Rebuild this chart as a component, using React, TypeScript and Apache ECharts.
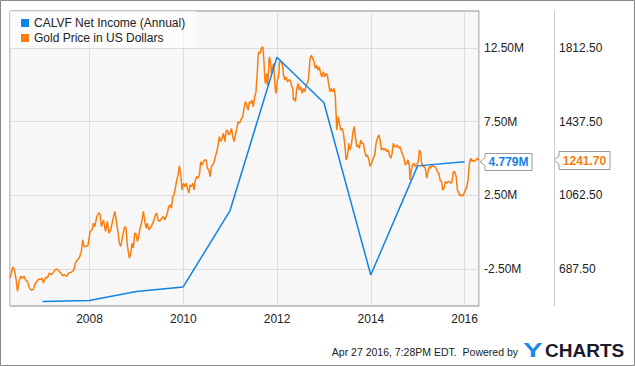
import React, { useEffect, useRef } from "react";
import * as echarts from "echarts";

const FONT = '"Liberation Sans", Arial, sans-serif';
const BLUE = "#1083e6";
const ORANGE = "#fb7d0c";

const seriesNames = ["CALVF Net Income (Annual)", "Gold Price in US Dollars"];

const xMin = "2006-04-22";
const xMax = "2016-04-22";

// Net income, millions USD (fiscal year ends)
const niDates = [
  "2006-12-31", "2007-12-31", "2008-12-31", "2009-12-31", "2010-12-31",
  "2011-12-31", "2012-12-31", "2013-12-31", "2014-12-31", "2015-12-31",
];
const niValues = [-4.69, -4.62, -4.01, -3.71, 1.47, 11.87, 8.78, -2.9, 4.5, 4.779];

// Left axis label ticks (M) and right axis label ticks (USD)
const niTickLabels = [-2.5, 2.5, 7.5, 12.5];
const goldTickLabels = [687.5, 1062.5, 1437.5, 1812.5];

const goldPrice: [string, number][] = [
  ["2006-04-22", 642], ["2006-05-14", 698], ["2006-05-24", 688], ["2006-06-09", 634], ["2006-06-19", 575],
  ["2006-07-05", 634], ["2006-07-15", 651], ["2006-07-26", 642], ["2006-08-10", 651], ["2006-08-20", 634],
  ["2006-09-05", 625], ["2006-09-20", 591], ["2006-10-06", 580], ["2006-10-22", 586], ["2006-11-01", 608],
  ["2006-11-17", 625], ["2006-12-02", 637], ["2006-12-18", 634], ["2006-12-28", 642],
  ["2007-01-07", 617], ["2007-01-18", 637], ["2007-01-28", 647], ["2007-02-07", 642], ["2007-02-22", 668],
  ["2007-03-10", 659], ["2007-03-26", 671], ["2007-04-10", 685], ["2007-04-21", 688], ["2007-05-07", 679],
  ["2007-05-22", 668], ["2007-06-07", 654], ["2007-06-22", 659], ["2007-07-08", 651], ["2007-07-23", 668],
  ["2007-08-08", 671], ["2007-08-23", 676], ["2007-09-02", 685], ["2007-09-13", 718], ["2007-09-28", 735],
  ["2007-10-14", 744], ["2007-10-30", 778], ["2007-11-09", 837], ["2007-11-19", 803], ["2007-12-05", 803],
  ["2007-12-21", 811],
  ["2008-01-06", 879], ["2008-01-22", 887], ["2008-02-01", 921], ["2008-02-12", 904], ["2008-02-27", 955],
  ["2008-03-14", 975], ["2008-03-24", 964], ["2008-04-03", 904], ["2008-04-19", 938], ["2008-05-05", 879],
  ["2008-05-20", 930], ["2008-05-31", 871], ["2008-06-15", 887], ["2008-07-01", 938], ["2008-07-16", 981],
  ["2008-07-27", 938], ["2008-08-11", 871], ["2008-08-21", 820], ["2008-09-01", 803], ["2008-09-17", 862],
  ["2008-10-02", 904], ["2008-10-12", 896], ["2008-10-23", 803], ["2008-11-07", 744], ["2008-11-18", 769],
  ["2008-11-28", 820], ["2008-12-08", 795], ["2008-12-19", 871], ["2008-12-29", 867],
  ["2009-01-08", 828], ["2009-01-19", 854], ["2009-01-29", 896], ["2009-02-09", 921], ["2009-02-24", 981],
  ["2009-03-07", 930], ["2009-03-17", 896], ["2009-03-27", 921], ["2009-04-07", 888], ["2009-04-27", 904],
  ["2009-05-18", 938], ["2009-05-29", 964], ["2009-06-08", 972], ["2009-06-18", 938], ["2009-06-28", 930],
  ["2009-07-19", 947], ["2009-07-29", 955], ["2009-08-09", 938], ["2009-08-19", 955], ["2009-08-30", 972],
  ["2009-09-09", 1006], ["2009-09-19", 1014], ["2009-09-30", 997], ["2009-10-11", 1057], ["2009-10-21", 1065],
  ["2009-10-31", 1099], ["2009-11-11", 1141], ["2009-11-21", 1167], ["2009-12-01", 1212], ["2009-12-12", 1167],
  ["2009-12-22", 1090],
  ["2010-01-02", 1124], ["2010-01-13", 1107], ["2010-01-23", 1124], ["2010-02-02", 1099], ["2010-02-13", 1074],
  ["2010-02-23", 1116], ["2010-03-05", 1107], ["2010-03-16", 1124], ["2010-03-26", 1090], ["2010-04-05", 1141],
  ["2010-04-16", 1158], ["2010-04-26", 1150], ["2010-05-06", 1167], ["2010-05-17", 1234], ["2010-05-27", 1217],
  ["2010-06-07", 1234], ["2010-06-17", 1243], ["2010-06-28", 1243], ["2010-07-08", 1200], ["2010-07-19", 1192],
  ["2010-07-29", 1158], ["2010-08-08", 1209], ["2010-08-19", 1217], ["2010-08-29", 1234], ["2010-09-08", 1260],
  ["2010-09-19", 1285], ["2010-09-29", 1319], ["2010-10-09", 1361], ["2010-10-20", 1336], ["2010-10-30", 1353],
  ["2010-11-09", 1378], ["2010-11-20", 1336], ["2010-11-30", 1386], ["2010-12-10", 1395], ["2010-12-21", 1370],
  ["2010-12-31", 1378],
  ["2011-01-11", 1403], ["2011-01-21", 1361], ["2011-02-01", 1336], ["2011-02-11", 1370], ["2011-02-22", 1403],
  ["2011-03-04", 1437], ["2011-03-14", 1429], ["2011-03-25", 1446], ["2011-04-09", 1463], ["2011-04-19", 1505],
  ["2011-04-29", 1539], ["2011-05-10", 1522], ["2011-05-20", 1496], ["2011-05-31", 1539], ["2011-06-10", 1530],
  ["2011-06-20", 1547], ["2011-06-30", 1513], ["2011-07-11", 1564], ["2011-07-21", 1589], ["2011-07-27", 1649],
  ["2011-08-01", 1699], ["2011-08-06", 1767], ["2011-08-11", 1792], ["2011-08-22", 1784], ["2011-09-01", 1809],
  ["2011-09-11", 1818], ["2011-09-16", 1792], ["2011-09-22", 1733], ["2011-09-27", 1665], ["2011-10-02", 1632],
  ["2011-10-07", 1657], ["2011-10-13", 1682], ["2011-10-17", 1623], ["2011-10-23", 1649], ["2011-10-28", 1716],
  ["2011-11-02", 1767], ["2011-11-08", 1750], ["2011-11-13", 1725], ["2011-11-18", 1682], ["2011-11-23", 1716],
  ["2011-11-28", 1708], ["2011-12-03", 1733], ["2011-12-09", 1699], ["2011-12-14", 1640], ["2011-12-19", 1598],
  ["2011-12-24", 1581], ["2011-12-30", 1615],
  ["2012-01-04", 1649], ["2012-01-15", 1674], ["2012-01-19", 1733], ["2012-01-25", 1750], ["2012-02-04", 1742],
  ["2012-02-15", 1716], ["2012-02-20", 1674], ["2012-03-02", 1649], ["2012-03-12", 1665], ["2012-03-22", 1640],
  ["2012-04-02", 1649], ["2012-04-12", 1649], ["2012-04-22", 1623], ["2012-05-03", 1606], ["2012-05-08", 1547],
  ["2012-05-19", 1556], ["2012-05-23", 1539], ["2012-06-03", 1606], ["2012-06-13", 1632], ["2012-06-23", 1598],
  ["2012-07-04", 1615], ["2012-07-14", 1581], ["2012-07-24", 1606], ["2012-08-04", 1589], ["2012-08-14", 1623],
  ["2012-08-25", 1632], ["2012-09-04", 1665], ["2012-09-09", 1716], ["2012-09-14", 1759], ["2012-09-24", 1775],
  ["2012-10-05", 1759], ["2012-10-15", 1742], ["2012-10-25", 1708], ["2012-11-05", 1725], ["2012-11-15", 1699],
  ["2012-11-25", 1716], ["2012-12-06", 1682], ["2012-12-16", 1665], ["2012-12-26", 1691],
  ["2013-01-07", 1665], ["2013-01-17", 1682], ["2013-01-27", 1674], ["2013-02-07", 1623], ["2013-02-17", 1589],
  ["2013-02-27", 1606], ["2013-03-10", 1589], ["2013-03-20", 1606], ["2013-03-30", 1564], ["2013-04-10", 1395],
  ["2013-04-21", 1463], ["2013-05-01", 1429], ["2013-05-12", 1395], ["2013-05-22", 1403], ["2013-06-01", 1378],
  ["2013-06-12", 1319], ["2013-06-22", 1243], ["2013-07-02", 1260], ["2013-07-13", 1327], ["2013-07-23", 1293],
  ["2013-08-02", 1319], ["2013-08-13", 1378], ["2013-08-23", 1412], ["2013-09-02", 1361], ["2013-09-13", 1310],
  ["2013-09-23", 1319], ["2013-10-03", 1302], ["2013-10-14", 1344], ["2013-10-24", 1327], ["2013-11-04", 1327],
  ["2013-11-14", 1285], ["2013-11-25", 1260], ["2013-12-05", 1268], ["2013-12-16", 1243], ["2013-12-26", 1209],
  ["2014-01-10", 1234], ["2014-01-20", 1251], ["2014-01-31", 1268], ["2014-02-10", 1327], ["2014-02-21", 1353],
  ["2014-03-03", 1370], ["2014-03-14", 1344], ["2014-03-24", 1293], ["2014-04-04", 1302], ["2014-04-14", 1293],
  ["2014-04-24", 1302], ["2014-05-05", 1285], ["2014-05-15", 1293], ["2014-05-25", 1268], ["2014-06-05", 1251],
  ["2014-06-15", 1276], ["2014-06-25", 1327], ["2014-07-06", 1310], ["2014-07-16", 1310], ["2014-07-26", 1319],
  ["2014-08-06", 1302], ["2014-08-16", 1310], ["2014-08-27", 1285], ["2014-09-06", 1268], ["2014-09-16", 1251],
  ["2014-09-26", 1217], ["2014-10-07", 1226], ["2014-10-17", 1243], ["2014-10-27", 1217], ["2014-11-02", 1141],
  ["2014-11-12", 1192], ["2014-11-22", 1217], ["2014-12-03", 1226], ["2014-12-13", 1209], ["2014-12-24", 1217],
  ["2015-01-04", 1234], ["2015-01-14", 1293], ["2015-01-25", 1276], ["2015-01-29", 1234], ["2015-02-09", 1209],
  ["2015-02-19", 1209], ["2015-03-01", 1200], ["2015-03-12", 1150], ["2015-03-22", 1183], ["2015-04-02", 1209],
  ["2015-04-12", 1200], ["2015-04-22", 1217], ["2015-05-03", 1209], ["2015-05-14", 1209], ["2015-05-24", 1200],
  ["2015-06-03", 1183], ["2015-06-14", 1175], ["2015-06-24", 1141], ["2015-07-04", 1133], ["2015-07-15", 1090],
  ["2015-07-25", 1099], ["2015-08-04", 1133], ["2015-08-15", 1124], ["2015-08-25", 1133], ["2015-09-04", 1133],
  ["2015-09-15", 1124], ["2015-09-25", 1133], ["2015-10-05", 1183], ["2015-10-16", 1183], ["2015-10-27", 1158],
  ["2015-11-06", 1090], ["2015-11-17", 1074], ["2015-11-27", 1060], ["2015-12-07", 1065], ["2015-12-18", 1060],
  ["2015-12-28", 1074],
  ["2016-01-07", 1090], ["2016-01-18", 1107], ["2016-01-28", 1141], ["2016-02-07", 1226], ["2016-02-18", 1251],
  ["2016-02-28", 1234], ["2016-03-09", 1243], ["2016-03-20", 1234], ["2016-03-30", 1243], ["2016-04-09", 1251],
  ["2016-04-22", 1241.7],
];

const footerText = "Apr 27 2016, 7:28PM EDT.  Powered by";

const TWO_YEARS = 2 * 365.25 * 24 * 3600 * 1000;

function isLabelTick(v: number, list: number[]) {
  return list.some((t) => Math.abs(t - v) < 1e-6);
}

function flag(tipX: number, y: number, w: number, h: number, text: string, color: string) {
  const bx = tipX + 5;
  const top = Math.round(y - h / 2) + 0.5;
  const bot = top + h;
  return {
    type: "group",
    children: [
      {
        type: "polygon",
        shape: {
          points: [
            [tipX, y], [bx, y - 4], [bx, top], [bx + w, top], [bx + w, bot], [bx, bot], [bx, y + 4],
          ],
        },
        style: { fill: "#ffffff", stroke: "#9a9a9a", lineWidth: 1 },
      },
      {
        type: "text",
        x: bx + w / 2,
        y: (top + bot) / 2,
        style: {
          text,
          fill: color,
          fontSize: 12,
          fontWeight: "bold",
          fontFamily: FONT,
          align: "center",
          verticalAlign: "middle",
          textAlign: "center",
          textVerticalAlign: "middle",
        },
      },
    ],
  };
}

export default function App() {
  const ref = useRef<HTMLDivElement>(null);

  useEffect(() => {
    if (!ref.current) return;
    const chart = echarts.init(ref.current, null, { renderer: "svg" });

    const option: any = {
      animation: false,
      backgroundColor: "#ffffff",
      textStyle: { fontFamily: FONT },
      grid: {
        left: 10,
        top: 11,
        right: 156,
        bottom: 60,
        show: true,
        backgroundColor: "#f7f7f7",
        borderColor: "#8a8a8a",
        borderWidth: 1,
        containLabel: false,
        outerBoundsMode: "none",
      },
      legend: {
        left: 10,
        top: 11,
        orient: "vertical",
        icon: "rect",
        itemWidth: 8,
        itemHeight: 8,
        itemGap: 3,
        padding: [6, 11, 4, 11],
        backgroundColor: "rgba(255,255,255,0.6)",
        selectedMode: false,
        textStyle: { color: "#222", fontSize: 12, fontFamily: FONT },
        data: seriesNames,
      },
      xAxis: {
        type: "time",
        min: xMin,
        max: xMax,
        minInterval: TWO_YEARS,
        maxInterval: TWO_YEARS,
        axisLine: { show: false },
        axisTick: { show: false },
        axisLabel: {
          color: "#222",
          fontSize: 12,
          margin: 7,
          fontFamily: FONT,
          formatter: (v: number) => String(new Date(v).getFullYear()),
        },
        splitLine: { show: true, lineStyle: { color: "#dcdcdc", width: 1 } },
      },
      yAxis: [
        {
          type: "value",
          position: "right",
          min: -5,
          max: 15,
          interval: 2.5,
          axisLine: { show: false },
          axisTick: { show: false },
          axisLabel: {
            color: "#222",
            fontSize: 12,
            margin: 5,
            fontFamily: FONT,
            formatter: (v: number) => (isLabelTick(v, niTickLabels) ? v.toFixed(2) + "M" : ""),
          },
          splitLine: { show: true, lineStyle: { color: ["rgba(0,0,0,0)", "#dcdcdc"], width: 1 } },
        },
        {
          type: "value",
          position: "right",
          offset: 75,
          min: 500,
          max: 2000,
          interval: 187.5,
          axisLine: { show: true, lineStyle: { color: "#cccccc", width: 1 } },
          axisTick: { show: false },
          axisLabel: {
            color: "#222",
            fontSize: 12,
            margin: 5,
            fontFamily: FONT,
            formatter: (v: number) => (isLabelTick(v, goldTickLabels) ? v.toFixed(2) : ""),
          },
          splitLine: { show: false },
        },
      ],
      series: [
        {
          name: seriesNames[0],
          type: "line",
          yAxisIndex: 0,
          data: niDates.map((d, i) => [d, niValues[i]]),
          symbol: "none",
          showSymbol: false,
          lineStyle: { width: 1.5, color: BLUE },
          itemStyle: { color: BLUE },
          z: 3,
        },
        {
          name: seriesNames[1],
          type: "line",
          yAxisIndex: 1,
          data: goldPrice,
          symbol: "none",
          showSymbol: false,
          lineStyle: { width: 1.5, color: ORANGE },
          itemStyle: { color: ORANGE },
          z: 2,
        },
      ],
    };

    chart.setOption(option);

    const lastNI = niValues[niValues.length - 1];
    const lastGold = goldPrice[goldPrice.length - 1][1];
    const yNI = chart.convertToPixel({ yAxisIndex: 0 }, lastNI) as number;
    const yG = chart.convertToPixel({ yAxisIndex: 1 }, lastGold) as number;
    const xRight = chart.convertToPixel({ xAxisIndex: 0 }, xMax) as number;

    chart.setOption({
      graphic: [
        {
          type: "rect",
          shape: { x: 0.5, y: 0.5, width: 634, height: 365 },
          style: { fill: "none", stroke: "#8a8a8a", lineWidth: 1 },
          silent: true,
        },
        flag(xRight + 1, yNI, 47, 17, lastNI.toFixed(3) + "M", BLUE),
        flag(xRight + 75, yG, 51, 18, lastGold.toFixed(2), ORANGE),
        {
          type: "text",
          x: 518,
          y: 352,
          style: {
            text: footerText,
            fill: "#222",
            fontSize: 10.5,
            fontFamily: FONT,
            align: "right",
            verticalAlign: "middle",
            textAlign: "right",
            textVerticalAlign: "middle",
          },
        },
        {
          type: "text",
          x: 533,
          y: 350,
          scaleX: 1.45,
          style: {
            text: "Y",
            fill: "#1a8ae6",
            fontSize: 20,
            fontWeight: "bold",
            fontFamily: FONT,
            align: "center",
            verticalAlign: "middle",
            textAlign: "center",
            textVerticalAlign: "middle",
          },
        },
        {
          type: "text",
          x: 545,
          y: 350,
          style: {
            text: "CHARTS",
            fill: "#1b1b2b",
            fontSize: 19,
            fontWeight: "bold",
            fontFamily: FONT,
            align: "left",
            verticalAlign: "middle",
            textAlign: "left",
            textVerticalAlign: "middle",
          },
        },
      ],
    });

    return () => chart.dispose();
  }, []);

  return (
    <div
      ref={ref}
      style={{ position: "absolute", left: 0, top: 0, width: 635, height: 366 }}
    />
  );
}
